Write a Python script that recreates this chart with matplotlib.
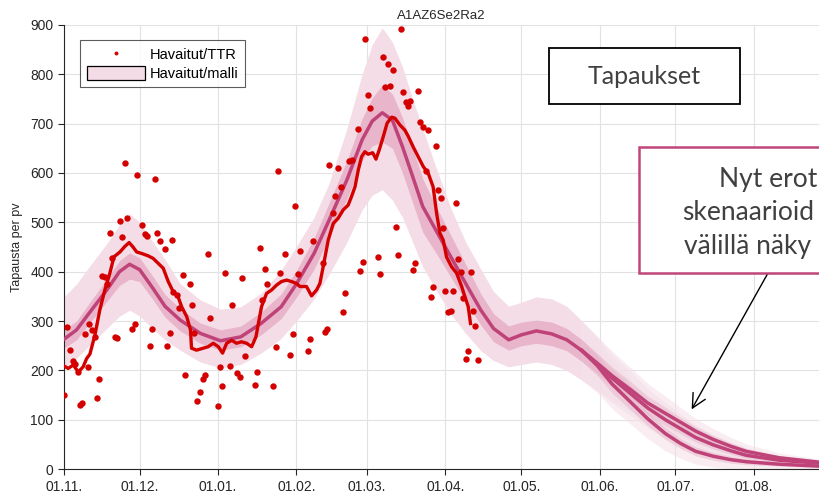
import matplotlib.pyplot as plt
from matplotlib.lines import Line2D
from matplotlib.patches import Patch, Rectangle

plt.rcParams['font.family'] = ['Liberation Sans', 'DejaVu Sans']

# x axis: days since 1.11.
tick_days = [0, 30, 61, 92, 120, 151, 181, 212, 242, 273]
tick_labels = ['01.11.', '01.12.', '01.01.', '01.02.', '01.03.', '01.04.',
               '01.05.', '01.06.', '01.07.', '01.08.']

# daily observations (red dots)
obs_day = [0.1, 1.3, 2.3, 3.7, 4.4, 5.4, 6.3, 7.2, 8.3, 9.4, 10.0, 11.2, 12.3, 13.2, 14.0,
           14.9, 16.2, 16.9, 18.2, 19.1, 20.2, 21.1, 22.2, 23.1, 24.1, 24.9, 27.0, 28.1,
           29.0, 31.1, 32.1, 33.0, 34.0, 34.9, 35.9, 36.9, 38.0, 40.0, 40.9, 41.9, 42.9,
           43.3, 44.6, 45.5, 47.0, 47.9, 49.9, 50.8,
           51.6, 52.8, 53.8, 54.9, 55.8, 56.9, 57.8, 60.8, 61.7, 62.6, 63.7, 65.7, 66.6,
           68.7, 69.6, 70.6, 71.6, 75.6, 76.6, 77.6, 78.5, 79.7, 80.5, 82.6, 83.8, 84.6,
           85.5, 87.6, 89.4, 90.5, 91.5, 92.5, 93.4, 96.4, 97.3, 98.4, 102.6, 103.3, 104.3,
           105.0,
           106.6, 107.4, 108.3, 109.5, 110.3, 111.2, 112.7, 113.9, 116.3, 117.3, 118.2,
           119.2, 120.3, 121.2, 124.1, 125.2, 126.2, 127.2, 128.2, 129.1, 130.2, 131.3,
           132.2, 133.2, 134.2, 135.3, 136.1, 136.9, 138.1, 139.0, 140.1, 141.0, 142.3,
           143.3, 144.0, 145.1, 146.0, 147.1, 148.1, 149.1, 149.9, 150.9, 152.1, 153.0,
           153.9, 155.1, 156.0, 157.0, 157.9, 159.0, 160.0, 160.9, 161.8, 162.8, 163.7]
obs_val = [150, 288, 241, 220, 213, 197, 130, 133, 274, 206, 294, 282, 268, 145, 182,
           391, 389, 376, 478, 427, 268, 265, 503, 471, 620, 509, 283, 293,
           595, 495, 476, 472, 249, 283, 587, 478, 462, 445, 249, 276, 464,
           359, 353, 326, 393, 191, 375, 332,
           276, 138, 157, 182, 191, 435, 307, 128, 206, 169, 398, 209, 332,
           194, 186, 388, 229, 170, 196, 449, 343, 406, 376, 168, 247, 605,
           398, 435, 231, 273, 534, 395, 442, 239, 264, 462, 418, 278, 283,
           616,
           518, 553, 611, 571, 318, 356, 624, 626, 690, 401, 419,
           871, 757, 732, 430, 396, 834, 774, 820, 777, 809, 491,
           434, 891, 764, 744, 736, 745, 403, 417, 766, 703, 694,
           605, 687, 349, 368, 655, 566, 549, 488, 361, 318, 320,
           360, 540, 426, 399, 346, 224, 239, 399, 321, 290, 222]

# TTR smoothed line (red)
ttr_day = [0, 1.7, 3.7, 5.7, 7.6, 9.0, 10.3, 12.3, 14.2, 16.2, 18.2, 19.8, 22.2, 24.1,
           25.8, 27.2, 28.8, 30.7, 33.4, 35.3, 37.3, 39.3, 41.3, 43.3, 45.2, 46.6, 48.6,
           50.1, 50.5, 52.5, 55.1, 57.1, 59.1, 61.1, 62.8, 64.4, 66.4, 68.3, 70.3, 72.3,
           74.3, 76.0, 78.2, 80.2, 82.2, 84.2, 86.1, 88.1, 90.1, 92.1, 93.4, 96.0, 98.0,
           100.0, 101.3, 102.6, 104.6, 106.6, 108.5, 110.5, 112.5, 113.8, 115.2, 116.5,
           117.8, 119.1, 120.4, 122.2, 123.5, 124.8, 126.4, 127.9, 129.7, 131.0, 133.0,
           134.9, 136.3, 138.2, 140.2, 142.2, 144.2, 146.1, 147.5, 148.8, 150.1, 151.4,
           153.4, 155.4, 157.4, 158.7, 160.0, 160.9]
ttr_val = [209, 204, 211, 197, 207, 224, 233, 272, 322, 363, 397, 430, 440, 451,
           459, 451, 440, 437, 432, 427, 417, 407, 380, 359, 349, 329, 309,
           282, 245, 241, 245, 248, 255, 248, 235, 255, 261, 255, 258, 255,
           248, 268, 329, 356, 363, 373, 380, 383, 380, 376, 370, 370, 351,
           363, 376, 410, 464, 498, 508, 525, 535, 552, 572, 606,
           633, 643, 638, 641, 628, 647, 674, 701, 713, 711, 697,
           687, 674, 653, 633, 613, 599, 572, 518, 478, 464, 430,
           410, 397, 370, 349, 329, 295]

# model (common part, before scenarios split)
mdl_day = [0, 5, 10, 17, 22, 26, 30, 35, 40, 46, 54, 62, 70, 78, 86, 92, 99, 105, 112,
           118, 122, 126, 130, 134, 138, 142, 147, 153, 159, 165, 170, 176, 181, 187,
           193, 199, 205]
mdl_med = [263, 282, 316, 363, 400, 415, 404, 368, 330, 302, 275, 260, 268, 295, 329,
           375, 437, 505, 586, 667, 705, 722, 707, 653, 593, 532, 486, 431, 376, 322,
           285, 262, 272, 280, 274, 262, 240]
mdl_hi50 = [282, 300, 336, 385, 422, 438, 428, 392, 354, 325, 296, 282, 290, 318, 355,
            402, 468, 540, 625, 710, 752, 778, 760, 712, 650, 588, 535, 475, 415, 355,
            315, 290, 298, 302, 298, 285, 262]
mdl_lo50 = [245, 262, 295, 340, 372, 385, 380, 345, 308, 280, 255, 241, 248, 272, 305,
            348, 405, 470, 548, 625, 655, 663, 650, 600, 540, 480, 440, 390, 340, 292,
            258, 241, 250, 255, 250, 240, 218]
mdl_hi90 = [349, 375, 410, 457, 495, 518, 500, 462, 425, 376, 343, 324, 329, 356, 403,
            451, 510, 580, 690, 800, 860, 894, 865, 815, 750, 690, 615, 530, 460, 405,
            360, 330, 338, 349, 345, 330, 300]
mdl_lo90 = [205, 225, 250, 285, 310, 322, 310, 285, 262, 241, 217, 205, 212, 235, 265,
            300, 345, 395, 460, 525, 555, 566, 545, 510, 460, 410, 365, 315, 275, 240,
            220, 207, 212, 217, 212, 200, 180]

# three scenarios after the split
tail_day = [205, 211, 217, 224, 231, 238, 244, 250, 257, 264, 270, 283, 299, 310]
tail_low = [240, 210, 172, 137, 102, 72, 52, 36, 26, 19, 15, 10, 6, 5]
tail_mid = [240, 213, 184, 154, 124, 100, 82, 64, 49, 37, 28, 18, 12, 9]
tail_high = [240, 215, 189, 162, 134, 113, 95, 77, 60, 46, 36, 23, 14, 10]
tail_w50 = [22, 20, 18, 16, 14, 12, 10, 9, 8, 7, 6, 4, 3, 2]
tail_w90 = [60, 55, 50, 45, 40, 35, 30, 26, 22, 18, 15, 10, 6, 5]

c_out = '#F4DDE7'
c_in = '#E8B5CA'
c_med = '#BF4378'
c_red = '#D40000'

fig = plt.figure(figsize=(8.19, 4.98), dpi=100)
ax = fig.add_axes([0.078, 0.058, 0.922, 0.892])

ax.fill_between(mdl_day, mdl_lo90, mdl_hi90, color=c_out, lw=0, zorder=1)
ax.fill_between(mdl_day, mdl_lo50, mdl_hi50, color=c_in, lw=0, zorder=2)
for med in [tail_low, tail_mid, tail_high]:
    lo90 = [max(m - w, 0) for m, w in zip(med, tail_w90)]
    hi90 = [m + w for m, w in zip(med, tail_w90)]
    lo50 = [max(m - w, 0) for m, w in zip(med, tail_w50)]
    hi50 = [m + w for m, w in zip(med, tail_w50)]
    ax.fill_between(tail_day, lo90, hi90, color=c_out, alpha=0.5, lw=0, zorder=1)
    ax.fill_between(tail_day, lo50, hi50, color=c_in, alpha=0.5, lw=0, zorder=2)
ax.plot(mdl_day, mdl_med, color=c_med, lw=2.5, zorder=3, solid_capstyle='round')
for med in [tail_low, tail_mid, tail_high]:
    ax.plot(tail_day, med, color=c_med, lw=2.5, zorder=3)

ax.plot(obs_day, obs_val, 'o', color=c_red, ms=4.6, mec='none', zorder=4)
ax.plot(ttr_day, ttr_val, color=c_red, lw=2.4, zorder=5)

ax.set_xlim(0, 298.8)
ax.set_ylim(0, 900)
ax.set_xticks(tick_days)
ax.set_xticklabels(tick_labels)
ax.set_yticks(range(0, 901, 100))
ax.grid(True, color='#E2E2E2', lw=0.8)
ax.set_axisbelow(True)
for s in ['top', 'right']:
    ax.spines[s].set_visible(False)
for s in ['left', 'bottom']:
    ax.spines[s].set_color('#262626')
    ax.spines[s].set_linewidth(0.8)
ax.tick_params(labelsize=10, colors='#262626', length=4, width=0.8)
ax.set_ylabel('Tapausta per pv', fontsize=9, color='#262626', labelpad=5)
ax.set_title('A1AZ6Se2Ra2', fontsize=9.5, color='#262626', pad=4)

handles = [Line2D([], [], ls='none', marker='o', color=c_red, ms=2.8, mec='none'),
           Patch(facecolor='#F3DCE6', edgecolor='black', lw=0.9)]
leg = ax.legend(handles, ['Havaitut/TTR', 'Havaitut/malli'], loc='upper left',
                bbox_to_anchor=(0.0977, 0.9197), bbox_transform=fig.transFigure,
                fontsize=10.5, frameon=True, fancybox=False, handlelength=4.0,
                handleheight=1.1, handletextpad=0.35, borderpad=0.45,
                labelspacing=0.3, borderaxespad=0)
leg.get_frame().set_edgecolor('#333333')
leg.get_frame().set_linewidth(0.8)

# overlay boxes
fig.add_artist(Rectangle((0.6703, 0.7912), 0.2332, 0.1124, transform=fig.transFigure,
                         facecolor='white', edgecolor='black', lw=1.3))
fig.text(0.787, 0.847, 'Tapaukset', fontsize=18, color='#404040', family='Lato',
         ha='center', va='center')

fig.add_artist(Rectangle((0.7802, 0.4518), 0.32, 0.253, transform=fig.transFigure,
                         facecolor='white', edgecolor='#C0457A', lw=1.8, clip_on=False))
for txt, xx, yy in [('Nyt erot', 0.878, 0.6386), ('skenaarioid', 0.833, 0.5723),
                    ('välillä näky', 0.835, 0.5060)]:
    fig.text(xx, yy, txt, fontsize=19, color='#404040', family='Lato',
             ha='left', va='center')

ax.annotate('', xy=(248.4, 121), xytext=(278.7, 398),
            arrowprops=dict(arrowstyle='->,head_length=1.0,head_width=0.5', color='black',
                            lw=1.0, shrinkA=0, shrinkB=0), annotation_clip=False)

fig.savefig('out.png', dpi=100)
